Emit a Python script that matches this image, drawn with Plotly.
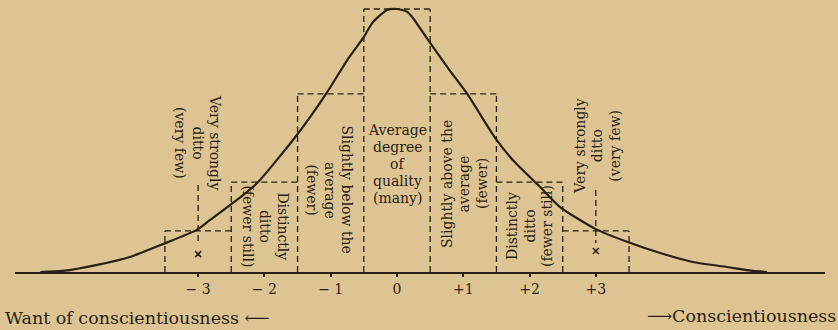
import plotly.graph_objects as go

BG_COLOR = "#dcc592"
INK = "#2b1e15"
FONT = "DejaVu Serif"

# curve: x in sigma units, y relative to the peak
curve_x = [-5.38, -5.04, -4.52, -4.03, -3.53, -3.02, -2.82, -2.37, -2.11, -1.51,
           -1.06, -0.75, -0.51, -0.36, -0.15, 0.0, 0.15, 0.24, 0.50, 0.80,
           1.06, 1.48, 1.75, 2.16, 2.46, 3.00, 3.48, 3.97, 4.46, 4.98,
           5.37, 5.58]
curve_y = [0.0, 0.004, 0.027, 0.057, 0.106, 0.160, 0.198, 0.283, 0.338, 0.521,
           0.681, 0.806, 0.890, 0.951, 0.996, 1.0, 0.990, 0.966, 0.871, 0.765,
           0.677, 0.510, 0.425, 0.323, 0.247, 0.163, 0.114, 0.072, 0.038, 0.019,
           0.004, 0.0]

# dashed boxes (one unit wide)
bin_centers = [-3, -2, -1, 0, 1, 2, 3]
bin_heights = [0.156, 0.342, 0.677, 1.0, 0.677, 0.342, 0.156]

# dashed stems and crosses at -3 / +3
stem_x = [-3, 3]
stem_top = [0.331, 0.312]
stem_bottom = [0.103, 0.110]
cross_y = [0.068, 0.080]

tick_vals = [-3, -2, -1, 0, 1, 2, 3]
tick_text = ["\u2212 3", "\u2212 2", "\u2212 1", "0", "+1", "+2", "+3"]

label_lines = [
    ["Very strongly", "ditto", "(very few)"],
    ["Distinctly", "ditto", "(fewer still)"],
    ["Slightly below the", "average", "(fewer)"],
    ["Average", "degree", "of", "quality", "(many)"],
    ["Slightly above the", "average", "(fewer)"],
    ["Distinctly", "ditto", "(fewer still)"],
    ["Very strongly", "ditto", "(very few)"],
]
label_x = [-3.0, -1.99, -1.01, 0.0, 1.01, 2.0, 3.02]
label_y = [0.492, 0.175, 0.312, 0.411, 0.336, 0.175, 0.479]
label_angle = [90, 90, 90, 0, -90, -90, -90]

left_caption = "Want of conscientiousness \u27f5"
right_caption = "\u27f6Conscientiousness"

fig = go.Figure()

# box outlines: vertical edges once each, then the tops
edge_x, edge_y = [], []
edges = sorted(set([c - 0.5 for c in bin_centers] + [c + 0.5 for c in bin_centers]))
for e in edges:
    h = max(bin_heights[i] for i, c in enumerate(bin_centers) if abs(c - e) == 0.5)
    edge_x += [e, e, None]
    edge_y += [0, h, None]
for c, h in zip(bin_centers, bin_heights):
    edge_x += [c - 0.5, c + 0.5, None]
    edge_y += [h, h, None]

fig.add_trace(go.Scatter(x=edge_x, y=edge_y, mode="lines",
                         line=dict(color=INK, width=1.3, dash="6px,4px"),
                         hoverinfo="skip"))

stem_xs, stem_ys = [], []
for x, t, b in zip(stem_x, stem_top, stem_bottom):
    stem_xs += [x, x, None]
    stem_ys += [t, b, None]
fig.add_trace(go.Scatter(x=stem_xs, y=stem_ys, mode="lines",
                         line=dict(color=INK, width=1.3, dash="6px,4px"),
                         hoverinfo="skip"))
fig.add_trace(go.Scatter(x=stem_x, y=cross_y, mode="markers",
                         marker=dict(symbol="x-thin", size=6, line=dict(color=INK, width=1.6)),
                         hoverinfo="skip"))

fig.add_trace(go.Scatter(x=curve_x, y=curve_y, mode="lines",
                         line=dict(color=INK, width=2.2, shape="spline", smoothing=0.6)))

for lines, x, y, angle in zip(label_lines, label_x, label_y, label_angle):
    n = len(lines)
    spacing = 17 if angle == 0 else 17.5
    for j, line in enumerate(lines):
        off = (j - (n - 1) / 2) * spacing
        xs, ys = 0, 0
        if angle == 90:
            xs = -off
        elif angle == -90:
            xs = off
        else:
            ys = -off
        fig.add_annotation(x=x, y=y, text=line, textangle=angle, showarrow=False,
                           xshift=xs, yshift=ys,
                           font=dict(family=FONT, size=14, color=INK))

# captions under the axis, placed relative to the plot area
fig.add_annotation(xref="paper", yref="paper", x=-0.0148, y=-0.169, text=left_caption,
                   xanchor="left", yanchor="middle", showarrow=False,
                   font=dict(family=FONT, size=17.5, color=INK))
fig.add_annotation(xref="paper", yref="paper", x=1.016, y=-0.162, text=right_caption,
                   xanchor="right", yanchor="middle", showarrow=False,
                   font=dict(family=FONT, size=17.5, color=INK))

fig.update_layout(
    width=838,
    height=330,
    showlegend=False,
    paper_bgcolor=BG_COLOR,
    plot_bgcolor=BG_COLOR,
    margin=dict(l=15, r=13, t=0, b=58),
    xaxis=dict(range=[-5.762, 6.456], showgrid=False, zeroline=False,
               showline=True, linecolor=INK, linewidth=2,
               ticks="outside", ticklen=3, tickwidth=1.5, tickcolor=INK,
               tickvals=tick_vals, ticktext=tick_text,
               tickfont=dict(family=FONT, size=14, color=INK)),
    yaxis=dict(range=[0, 1.0342], visible=False),
)

# page body has a default margin; drop it so the figure fills the window
fig.write_html("out.html", config={"displayModeBar": False},
               post_script="document.body.style.margin='0';")
